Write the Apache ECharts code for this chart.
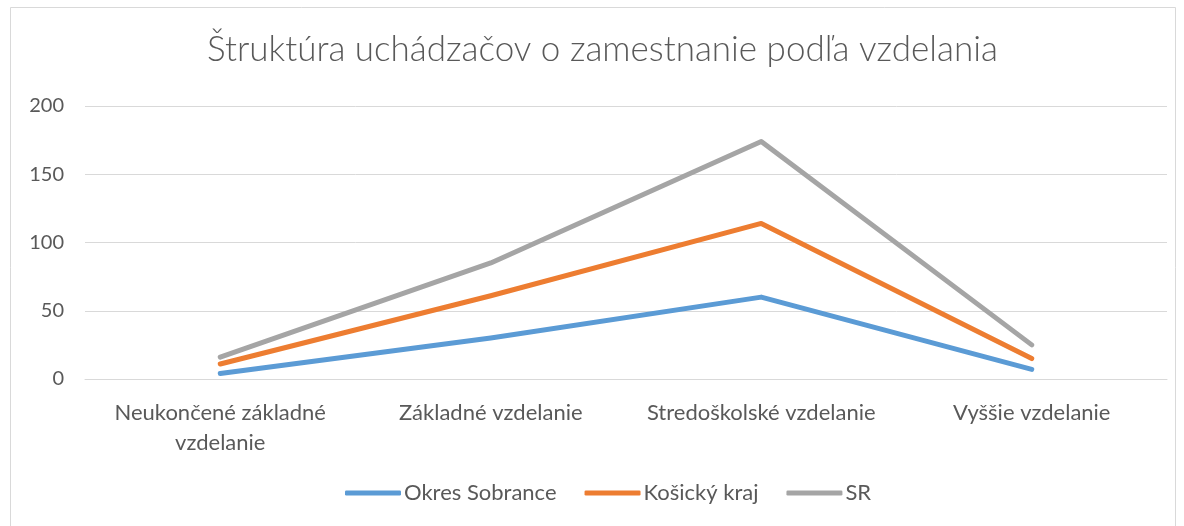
<!DOCTYPE html>
<html>
<head>
<meta charset="utf-8">
<script src="https://cdn.jsdelivr.net/npm/echarts@6/dist/echarts.min.js"></script>
<style>
html,body{margin:0;padding:0;background:#fff;}
#c{width:1184px;height:526px;}
</style>
</head>
<body>
<div id="c"></div>
<script>
const title = 'Štruktúra uchádzačov o zamestnanie podľa vzdelania';
const categories = ['Neukončené základné\nvzdelanie', 'Základné vzdelanie', 'Stredoškolské vzdelanie', 'Vyššie vzdelanie'];
const seriesNames = ['Okres Sobrance', 'Košický kraj', 'SR'];
const okresSobrance = [4, 30, 60, 7];
const kosickyKraj = [11, 61, 114, 15];
const sr = [16, 85, 174, 25];
const colors = ['#5B9BD5', '#ED7D31', '#A5A5A5'];

const font = 'Lato, "Open Sans", sans-serif';
const chart = echarts.init(document.getElementById('c'), null, {renderer: 'canvas'});
const mk = (name, data, color) => ({
  name, type: 'line', data, symbol: 'none', color,
  lineStyle: {width: 5, color, cap: 'round', join: 'round'}
});
chart.setOption({
  animation: false,
  backgroundColor: '#fff',
  graphic: [{type: 'rect', shape: {x: 10.5, y: 7.5, width: 1165, height: 530},
    style: {fill: 'none', stroke: '#d9d9d9', lineWidth: 1}, silent: true}],
  title: {text: title, left: 202, top: 27,
    textStyle: {fontFamily: font, fontWeight: 300, fontSize: 35, color: '#595959'}},
  grid: {left: 85, right: 17, top: 106, bottom: 147},
  legend: {bottom: 17, left: 340, itemGap: 28, itemWidth: 56, itemHeight: 5,
    icon: 'roundRect',
    textStyle: {fontFamily: font, fontSize: 22, color: '#595959', padding: [0, 0, 0, -2]},
    data: seriesNames},
  xAxis: {type: 'category', data: categories, boundaryGap: true,
    axisLine: {lineStyle: {color: '#d9d9d9', width: 1}}, axisTick: {show: false},
    axisLabel: {fontFamily: font, fontSize: 22, color: '#595959', margin: 19, lineHeight: 30, interval: 0}},
  yAxis: {type: 'value', min: 0, max: 200, interval: 50,
    axisLine: {show: false}, axisTick: {show: false},
    splitLine: {lineStyle: {color: '#d9d9d9', width: 1}},
    axisLabel: {fontFamily: font, fontSize: 20, color: '#595959', margin: 21}},
  series: [mk(seriesNames[0], okresSobrance, colors[0]), mk(seriesNames[1], kosickyKraj, colors[1]), mk(seriesNames[2], sr, colors[2])]
});
</script>
</body>
</html>
